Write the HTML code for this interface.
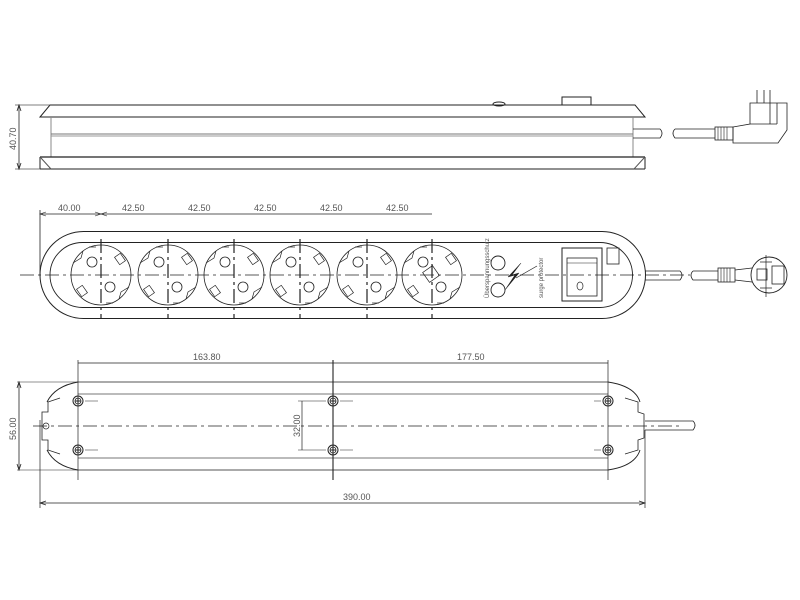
<!DOCTYPE html>
<html><head><meta charset="utf-8"><style>
html,body{margin:0;padding:0;background:#fff;}
svg{display:block;}
text{font-family:"Liberation Sans",sans-serif;font-size:9px;fill:#555;stroke:none;}
</style></head><body>
<svg width="800" height="600" viewBox="0 0 800 600" xmlns="http://www.w3.org/2000/svg" fill="none" stroke="#222" stroke-width="1">
<defs>
<g id="sock">
 <circle r="30" stroke-width="0.8"/>
 <circle cx="-9" cy="-13" r="5" stroke-width="0.8"/>
 <circle cx="9" cy="12" r="5" stroke-width="0.8"/>
 <rect x="-3.5" y="-4.5" width="7" height="9" transform="translate(19,-16) rotate(-35)" stroke-width="0.7"/>
 <rect x="-3.5" y="-4.5" width="7" height="9" transform="translate(-19,16) rotate(-35)" stroke-width="0.7"/>
 <path d="M-28,-12 l8,-5 l2,-7" stroke-width="0.7"/>
 <path d="M28,12 l-8,5 l-2,7" stroke-width="0.7"/>
 <path d="M-12,-28 l7,0" stroke-width="0.7"/>
 <path d="M12,28 l-7,0" stroke-width="0.7"/>
 <line x1="0" y1="-36" x2="0" y2="43" stroke-width="1.2" stroke-dasharray="14,4,3,4"/>
</g>
<g id="screw"><circle r="5" stroke-width="1"/><circle r="3" stroke-width="0.8"/><line x1="-3" y1="0" x2="3" y2="0"/><line x1="0" y1="-3" x2="0" y2="3"/></g>
</defs>

<!-- TOP VIEW -->
<path d="M50,105 L635,105 L645,117 L40,117 Z" stroke-width="1"/>
<line x1="51" y1="117" x2="51" y2="157" stroke="#888"/>
<line x1="633" y1="117" x2="633" y2="157" stroke="#888"/>
<line x1="51" y1="134" x2="633" y2="134" stroke="#777"/>
<line x1="51" y1="136" x2="633" y2="136" stroke="#999"/>
<line x1="40" y1="157" x2="645" y2="157" stroke-width="1.3"/>
<line x1="40" y1="169" x2="645" y2="169"/>
<line x1="40" y1="157" x2="40" y2="169"/>
<line x1="645" y1="157" x2="645" y2="169"/>
<path d="M41,158 L51,169" stroke="#555"/>
<path d="M644,158 L634,169" stroke="#555"/>
<ellipse cx="499" cy="104" rx="6" ry="2"/>
<rect x="562" y="97" width="29" height="8"/>
<!-- dim 40.70 -->
<line x1="15" y1="105" x2="50" y2="105" stroke="#555" stroke-width="0.7"/>
<line x1="15" y1="169" x2="40" y2="169" stroke="#555" stroke-width="0.7"/>
<line x1="19" y1="105" x2="19" y2="169" stroke-width="0.8"/>
<path d="M17,111 L19,105 L21,111 M17,163 L19,169 L21,163" stroke-width="0.8"/>
<text transform="translate(16,150) rotate(-90)">40.70</text>
<!-- cable top -->
<path d="M633,129 L660,129 Q664,133 660,138 L633,138" stroke-width="0.8"/>
<path d="M675,129 Q671,133 675,138 L715,138 M675,129 L715,129" stroke-width="0.8"/>
<rect x="715" y="127" width="18" height="13" stroke-width="0.8"/>
<path d="M718,127 v13 M721,127 v13 M724,127 v13 M727,127 v13" stroke-width="0.6"/>
<path d="M733,127 L750,124 L750,103 L787,103 L787,130 L778,143 L733,143 Z" stroke-width="0.8"/>
<path d="M757,103 V90 M764,103 V90 M770,124 V90 M777,124 V103" stroke-width="0.8"/>
<path d="M750,124 H777" stroke-width="0.8"/>

<!-- FRONT VIEW -->
<path d="M83.5,231.5 L602,231.5 A43.5,43.5 0 0 1 602,318.5 L83.5,318.5 A43.5,43.5 0 0 1 83.5,231.5 Z" stroke-width="1"/>
<path d="M82.5,242.5 L600,242.5 A32.5,32.5 0 0 1 600,307.5 L82.5,307.5 A32.5,32.5 0 0 1 82.5,242.5 Z" stroke-width="0.9"/>
<line x1="20" y1="275" x2="690" y2="275" stroke-width="0.8" stroke-dasharray="14,4,3,4"/>
<use href="#sock" x="101" y="275"/>
<use href="#sock" x="168" y="275"/>
<use href="#sock" x="234" y="275"/>
<use href="#sock" x="300" y="275"/>
<use href="#sock" x="367" y="275"/>
<use href="#sock" x="432" y="275"/>
<line x1="40" y1="210" x2="40" y2="275" stroke-width="0.8"/>
<line x1="40" y1="214" x2="432" y2="214" stroke-width="0.8"/>
<path d="M46,212 L40,214 L46,216 M95,212 L101,214 L95,216 M107,212 L101,214 L107,216" stroke-width="0.6"/>
<text x="58" y="211">40.00</text>
<text x="122" y="211">42.50</text>
<text x="188" y="211">42.50</text>
<text x="254" y="211">42.50</text>
<text x="320" y="211">42.50</text>
<text x="386" y="211">42.50</text>
<rect x="425" y="268" width="12" height="12" stroke-width="0.7" transform="rotate(-35 431 274)"/>
<circle cx="498" cy="263" r="7" stroke-width="0.9"/>
<circle cx="498" cy="290" r="7" stroke-width="0.9"/>
<text transform="translate(489,298) rotate(-90)" style="font-size:6px">Überspannungsschutz</text>
<path d="M521,263 L508,277 L515,275 L505,290 L519,273 L512,275 Z" fill="#222" stroke-width="0.5"/>
<line x1="516" y1="278" x2="537" y2="266" stroke-width="0.7"/>
<text transform="translate(543,298) rotate(-90)" style="font-size:6px">surge protector</text>
<rect x="562" y="248" width="40" height="53" stroke-width="1"/>
<rect x="567" y="258" width="30" height="38" stroke-width="0.8"/>
<line x1="567" y1="263" x2="597" y2="263" stroke-width="0.6"/>
<ellipse cx="580" cy="286" rx="3" ry="4" stroke-width="0.7"/>
<rect x="607" y="248" width="12" height="16" stroke-width="0.8"/>
<!-- cable front -->
<path d="M645,271 L680,271 Q684,275 680,280 L645,280" stroke-width="0.8"/>
<path d="M693,271 Q689,275 693,280 L718,280 M693,271 L718,271" stroke-width="0.8"/>
<rect x="718" y="268" width="17" height="14" stroke-width="0.8"/>
<path d="M721,268 v14 M724,268 v14 M727,268 v14 M730,268 v14" stroke-width="0.6"/>
<path d="M735,270 L752,268 M735,280 L752,282" stroke-width="0.8"/>
<circle cx="769" cy="275" r="18" stroke-width="0.9"/>
<rect x="757" y="269" width="10" height="11" stroke-width="0.8"/>
<rect x="772" y="266" width="12" height="18" stroke-width="0.8"/>
<path d="M766,255 V297 M760,262 H772 M760,288 H772" stroke-width="0.7"/>

<!-- BOTTOM VIEW -->
<line x1="78" y1="382" x2="608" y2="382" stroke="#555"/>
<line x1="78" y1="470" x2="608" y2="470" stroke="#555"/>
<line x1="78" y1="394" x2="608" y2="394" stroke="#777"/>
<line x1="78" y1="458" x2="608" y2="458" stroke="#777"/>
<path d="M78,382 Q55,386 47,402 M47,450 Q55,466 78,470" stroke-width="0.9"/>
<path d="M60,398 L48,402 V412 L42,412 V440 L48,440 V450 L60,454" stroke-width="0.8"/>
<circle cx="46" cy="426" r="3" stroke-width="0.7"/>
<path d="M608,382 Q635,386 640,402 M640,450 Q635,466 608,470" stroke-width="0.9"/>
<path d="M625,398 L638,402 V412 L644,414 V438 L638,440 V450 L625,454" stroke-width="0.8"/>
<line x1="33" y1="426" x2="680" y2="426" stroke-width="0.8" stroke-dasharray="14,4,3,4"/>
<line x1="78" y1="360" x2="78" y2="480" stroke-width="0.7"/>
<line x1="333" y1="360" x2="333" y2="480" stroke-width="1.1"/>
<line x1="608" y1="360" x2="608" y2="480" stroke-width="0.7"/>
<use href="#screw" x="78" y="401"/><use href="#screw" x="78" y="450"/>
<use href="#screw" x="333" y="401"/><use href="#screw" x="333" y="450"/>
<use href="#screw" x="608" y="401"/><use href="#screw" x="608" y="450"/>
<path d="M85,401 H98 M85,450 H98 M340,401 H353 M340,450 H353 M594,401 H601 M594,450 H601" stroke-width="0.6"/>
<line x1="78" y1="363" x2="608" y2="363" stroke-width="0.7"/>
<text x="193" y="360">163.80</text>
<text x="457" y="360">177.50</text>
<line x1="17" y1="382" x2="78" y2="382" stroke-width="0.6"/>
<line x1="17" y1="470" x2="78" y2="470" stroke-width="0.6"/>
<line x1="19" y1="382" x2="19" y2="470" stroke-width="0.8"/>
<path d="M17,388 L19,382 L21,388 M17,464 L19,470 L21,464" stroke-width="0.8"/>
<text transform="translate(16,440) rotate(-90)">56.00</text>
<path d="M298,401 H326 M298,450 H326" stroke-width="0.6"/>
<line x1="302" y1="401" x2="302" y2="450" stroke-width="0.7"/>
<text transform="translate(300,437) rotate(-90)">32.00</text>
<line x1="40" y1="420" x2="40" y2="508" stroke-width="0.7"/>
<line x1="645" y1="430" x2="645" y2="508" stroke-width="0.7"/>
<line x1="40" y1="503" x2="645" y2="503" stroke-width="0.8"/>
<path d="M46,501 L40,503 L46,505 M639,501 L645,503 L639,505" stroke-width="0.7"/>
<text x="343" y="500">390.00</text>
<path d="M645,421 L693,421 Q697,425 693,430 L645,430" stroke-width="0.8"/>
</svg>
</body></html>
